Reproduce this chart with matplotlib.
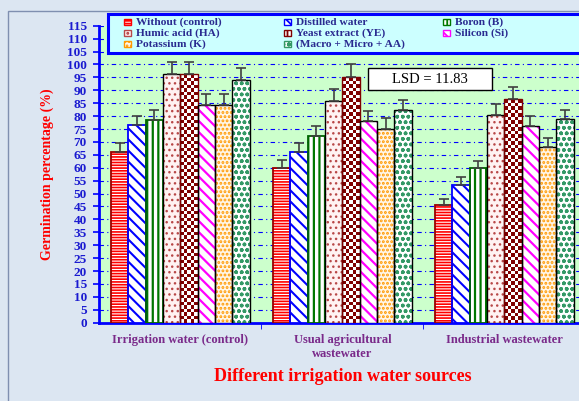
import numpy as np
import matplotlib.pyplot as plt
from matplotlib.patches import Rectangle
from matplotlib.colors import ListedColormap

# ----------------------------
# Data
# ----------------------------
groups = ["Irrigation water (control)", "Usual agricultural\nwastewater", "Industrial wastewater"]
treatments = ["Without (control)", "Distilled water", "Boron (B)",
              "Humic acid (HA)", "Yeast extract (YE)", "Silicon (Si)",
              "Potassium (K)", "(Macro + Micro + AA)"]

without = [66.0, 60.0, 45.4]
distilled = [76.5, 66.0, 53.4]
boron = [78.6, 72.3, 59.9]
humic = [96.2, 85.9, 80.5]
yeast = [96.2, 95.0, 86.7]
silicon = [84.2, 78.0, 76.3]
potassium = [84.2, 75.1, 68.1]
macro = [93.8, 82.2, 78.7]

err_without = [3.5, 2.9, 2.4]
err_distilled = [3.6, 3.4, 3.0]
err_boron = [3.9, 4.0, 2.8]
err_humic = [4.6, 4.7, 4.3]
err_yeast = [4.6, 5.0, 4.7]
err_silicon = [4.3, 4.1, 3.8]
err_potassium = [4.3, 4.0, 3.5]
err_macro = [4.8, 3.9, 3.8]

lsd = 11.83

values = [without, distilled, boron, humic, yeast, silicon, potassium, macro]
errors = [err_without, err_distilled, err_boron, err_humic, err_yeast,
          err_silicon, err_potassium, err_macro]

# style per treatment: face, hatch colour, hatch, outline colour, hatch width
styles = [
    ("white", "#ff0000", "------", "#990000", 1.2),
    ("white", "#0000ff", "\\\\\\", "#0000ff", 1.5),
    ("white", "#007700", "|||", "#006600", 1.6),
    ("#fff2f2", "#b84848", "...", "#000000", 1.0),
    ("white", "#800000", None, "#800000", 1.0),       # checkerboard
    ("white", "#ff00ff", "\\\\\\", "#000000", 1.6),
    ("#fff6e8", "#ff9900", "....", "#000000", 1.4),
    ("white", "#339966", "ooo", "#000000", 1.1),
]

plt.rcParams["font.family"] = ["Liberation Serif", "DejaVu Serif"]
plt.rcParams["hatch.linewidth"] = 1.3

fig = plt.figure(figsize=(5.79, 4.01), dpi=100)
fig.patch.set_facecolor("#dce6f2")
fig.patches.append(Rectangle((8 / 579, -0.1), 1.2, 1 - 11 / 401 + 0.1,
                             transform=fig.transFigure, facecolor="none",
                             edgecolor="#7f8fb0", linewidth=1.0))

ax = fig.add_axes([99.3 / 579, 78.3 / 401, 486.2 / 579, 297 / 401])
ax.set_facecolor("#ccffcc")

x = np.arange(len(groups))
width = 0.107
checker = ListedColormap(["white", "#800000"])

for i, (vals, errs, st) in enumerate(zip(values, errors, styles)):
    face, hcol, hatch, ecol, hlw = st
    pos = x + (i - 3.5) * width
    bars = ax.bar(pos, vals, width, color=face, edgecolor=hcol, hatch=hatch,
                  linewidth=0, zorder=3)
    for b in bars:
        if hasattr(b, "set_hatch_linewidth"):
            b.set_hatch_linewidth(hlw)
    if hatch is None:
        # yeast extract: checkerboard fill clipped to each bar
        for b, p, v in zip(bars, pos, vals):
            nrows = max(1, int(round(v / 1.35)))
            cells = np.add.outer(np.arange(nrows), np.arange(5)) % 2
            im = ax.imshow(cells, extent=(p - width / 2, p + width / 2, 0, v),
                           aspect="auto", interpolation="nearest", cmap=checker,
                           origin="lower", zorder=3.5)
            im.set_clip_path(b)
    ax.bar(pos, vals, width, fill=False, edgecolor=ecol,
           linewidth=1.3 if i < 3 else 1.0, zorder=4)
    ax.errorbar(pos, vals, yerr=[np.zeros(len(errs)), errs], fmt="none",
                ecolor="#404040", elinewidth=1.2, capsize=3.5, capthick=1.2,
                zorder=5)

ax.set_xlim(-0.5, 2.5)
ax.set_ylim(0, 115)
ax.set_yticks(np.arange(0, 116, 5))
ax.yaxis.grid(True, color="#0000ff", linestyle=(0, (4, 3, 1, 3)),
              linewidth=0.8, zorder=0)
ax.set_axisbelow(True)

ax.set_xticks(x)
ax.set_xticklabels(groups, fontsize=9, fontweight="bold", color="#7a2a8a")
ax.set_xticks([0.5, 1.5], minor=True)
ax.tick_params(axis="x", which="major", length=0, pad=8)
ax.tick_params(axis="x", which="minor", length=4, color="#0000ff", direction="out")
ax.tick_params(axis="y", length=4, color="#0000ff", width=1.2, pad=5,
               labelsize=9.5, labelcolor="#1a1ad0")
for lab in ax.get_yticklabels():
    lab.set_fontweight("bold")

for s in ["top", "right"]:
    ax.spines[s].set_visible(False)
for s in ["left", "bottom"]:
    ax.spines[s].set_color("#0000ff")
    ax.spines[s].set_linewidth(2)

ax.set_ylabel("Germination percentage (%)", fontsize=10, fontweight="bold",
              color="#ff0000", labelpad=9)
ax.set_xlabel("Different irrigation water sources", fontsize=13,
              fontweight="bold", color="#ff0000", labelpad=6)

# LSD box
ax.add_patch(Rectangle((0.553, 0.782), 0.255, 0.077, transform=ax.transAxes,
                       facecolor="white", edgecolor="black", linewidth=1.0,
                       zorder=6))
ax.text(0.680, 0.8205, f"LSD = {lsd:.2f}", transform=ax.transAxes, fontsize=10.5,
        ha="center", va="center", zorder=7)

# ----------------------------
# Legend box (Excel style, three equal columns)
# ----------------------------
def fx(px):
    return px / 579


def fy(py):
    return 1 - py / 401


fig.patches.append(Rectangle((fx(108), fy(53)), fx(600) - fx(108),
                             fy(14) - fy(53), transform=fig.transFigure,
                             facecolor="#ccffff", edgecolor="#0000ff",
                             linewidth=2.2, zorder=10))
col_x = [124, 284, 443]
row_y = [22.3, 33.3, 44.3]
for k, name in enumerate(treatments):
    face, hcol, hatch, ecol, hlw = styles[k]
    cx = col_x[k % 3]
    cy = row_y[k // 3]
    mk = Rectangle((fx(cx), fy(cy + 3)), fx(7), 6 / 401,
                   transform=fig.transFigure, facecolor=face,
                   edgecolor=hcol, hatch=hatch if hatch else "++",
                   linewidth=1.0, zorder=11)
    fig.patches.append(mk)
    fig.text(fx(cx + 12), fy(cy), name, fontsize=8.2, fontweight="bold",
             color="#2a2a90", ha="left", va="center", zorder=12)

plt.savefig("out.png", dpi=100, facecolor=fig.get_facecolor())
